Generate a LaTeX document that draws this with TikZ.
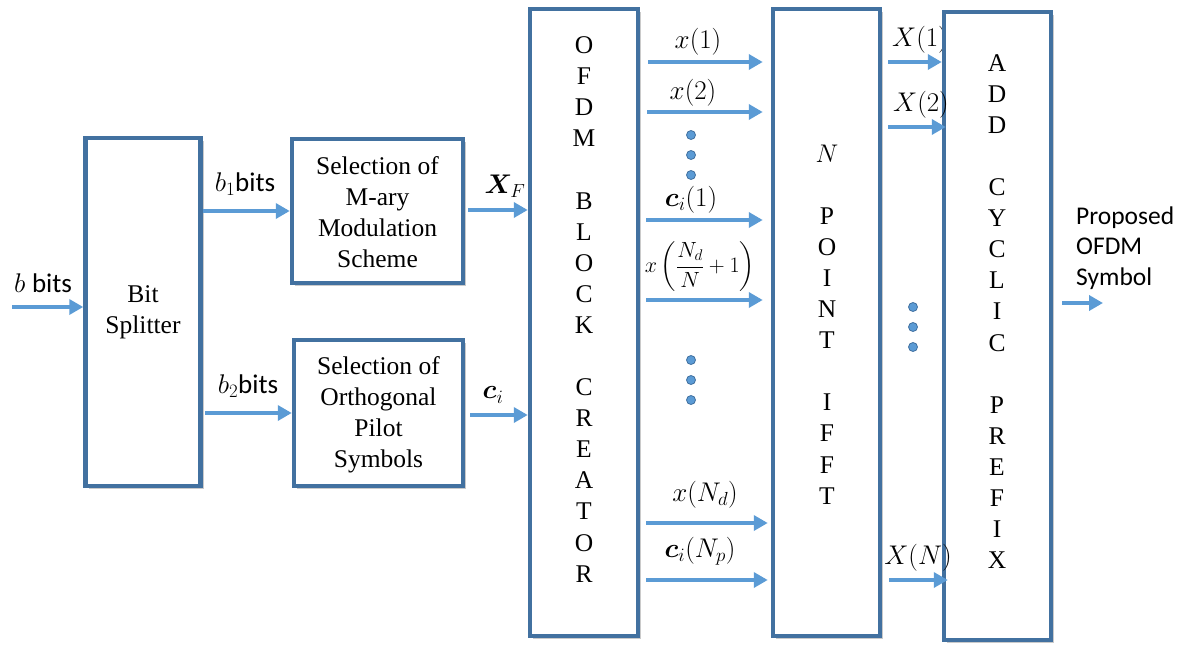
\RequirePackage{fix-cm}
\documentclass[tikz,border=0pt]{standalone}
\usepackage{amsmath,bm}
\usepackage{fontspec}
\setmainfont{Liberation Serif}
\newfontfamily\calibri{Carlito}
\newfontfamily\timesfont{Liberation Serif}
\usetikzlibrary{arrows.meta,shadows}
\definecolor{boxblue}{RGB}{66,113,160}
\definecolor{arrblue}{RGB}{91,155,213}
\begin{document}
\begin{tikzpicture}[x=1pt,y=-1pt,
  blk/.style={draw=boxblue, line width=4.5pt, fill=white, inner sep=0pt,
    drop shadow={shadow xshift=3pt,shadow yshift=-3pt,opacity=0.35,fill=black!60}},
  btxt/.style={inner sep=0pt, align=center, font=\timesfont\fontsize{25.5}{31}\selectfont},
  arr/.style={draw=arrblue, line width=4pt, -{Triangle[length=14pt,width=15pt]}},
  lbl/.style={inner sep=0pt, font=\fontsize{27}{32}\selectfont},
  col/.style={inner sep=0pt, align=center, font=\timesfont\fontsize{25.5}{31.1}\selectfont},
  dot/.style={circle, fill=arrblue, draw=boxblue, line width=0.8pt, minimum size=9pt, inner sep=0pt},
  outtxt/.style={inner sep=0pt, align=left, anchor=west, font=\calibri\fontsize{25.5}{30.5}\selectfont}
]
\useasboundingbox (0,0) rectangle (1181,645);

% label partly hidden behind the prefix box
\node[lbl] (lX1) at (920,40) {$X(1)$};

% boxes
\node[blk, minimum width=115pt, minimum height=348pt] (split) at (143,312) {};
\node[blk, minimum width=171pt, minimum height=144pt] (sel1) at (377.5,211) {};
\node[blk, minimum width=169pt, minimum height=146pt] (sel2) at (378.5,413) {};
\node[blk, minimum width=108pt, minimum height=627pt] (ofdm) at (584,322.5) {};
\node[blk, minimum width=107pt, minimum height=627pt] (ifft) at (826.5,322.5) {};
\node[blk, minimum width=107pt, minimum height=628pt] (cp) at (997.5,326) {};

% box texts
\node[btxt] (tsplit) at (split) {Bit\\Splitter};
\node[btxt] (tsel1) at (377.5,212) {Selection of\\M-ary\\Modulation\\Scheme};
\node[btxt] (tsel2) at (378.5,415) {Selection of\\Orthogonal\\Pilot\\Symbols};
\node[col] (tofdm) at (584,309.5) {O\\F\\D\\M\\[31pt]B\\L\\O\\C\\K\\[31pt]C\\R\\E\\A\\T\\O\\R};
\node[col] (tifft) at (827,324.5) {$N$\\[31pt]P\\O\\I\\N\\T\\[31pt]I\\F\\F\\T};
\node[col] (tcp) at (997,311.5) {A\\D\\D\\[31pt]C\\Y\\C\\L\\I\\C\\[31pt]P\\R\\E\\F\\I\\X};

% input side
\coordinate (in) at (12,307);
\draw[arr] (in) -- (in -| split.west);
\node[lbl] (lb) at (43,283) {$b$ {\calibri bits}};

\draw[arr] (split.east |- sel1.west) -- (sel1.west);
\node[lbl] (lb1) at (245,184) {$b_1${\calibri bits}};
\coordinate (b2s) at (205,413);
\draw[arr] (b2s) -- (b2s -| sel2.west);
\node[lbl] (lb2) at (248,386) {$b_2${\calibri bits}};

\coordinate (xfs) at (468,210);
\draw[arr] (xfs) -- (xfs -| ofdm.west);
\node[lbl] (lxf) at (505,186) {$\bm{X}_F$};
\coordinate (cis) at (470,415);
\draw[arr] (cis) -- (cis -| ofdm.west);
\node[lbl] (lci) at (493,395) {$\bm{c}_i$};

% OFDM -> IFFT
\coordinate (a1) at (648,62);
\coordinate (a2) at (647,112);
\coordinate (a3) at (646,220);
\coordinate (a4) at (646,300);
\coordinate (a5) at (646,523);
\coordinate (a6) at (646,580);
\foreach \c in {a1,a2,a3,a4} \draw[arr, shorten >=8pt] (\c) -- (\c -| ifft.west);
\foreach \c in {a5,a6} \draw[arr, shorten >=3pt] (\c) -- (\c -| ifft.west);
\node[lbl] (lx1) at (698,42) {$x(1)$};
\node[lbl] (lx2) at (693,93) {$x(2)$};
\node[lbl] (lc1) at (691,200) {$\bm{c}_i(1)$};
\node[lbl, font=\fontsize{22}{26}\selectfont] (lxn) at (700,267) {$x\left(\dfrac{N_d}{N}+1\right)$};
\node[lbl] (lxnd) at (705,495) {$x(N_d)$};
\node[lbl] (lcnp) at (700,551) {$\bm{c}_i(N_p)$};

\foreach \y [count=\i] in {135,155,175} \node[dot] (da\i) at (691,\y) {};
\foreach \y [count=\i] in {360,380,400} \node[dot] (db\i) at (691,\y) {};
\foreach \y [count=\i] in {307,327,347} \node[dot] (dc\i) at (913,\y) {};

% IFFT -> CP
\coordinate (o1) at (888,62);
\coordinate (o2) at (888,127);
\coordinate (o3) at (889,580);
\draw[arr] (o1) -- (o1 -| cp.west);
\draw[arr, shorten >=-4pt] (o2) -- (o2 -| cp.west);
\draw[arr, shorten >=-6pt] (o3) -- (o3 -| cp.west);
\node[lbl] (lX2) at (921,105) {$X(2)$};
\node[lbl] (lXN) at (918,558) {$X(N)$};

% output
\coordinate (out) at (1062,303);
\draw[arr] (out) -- (1103,303);
\node[outtxt] (lout) at (1076,248) {Proposed\\OFDM\\Symbol};
\end{tikzpicture}
\end{document}
